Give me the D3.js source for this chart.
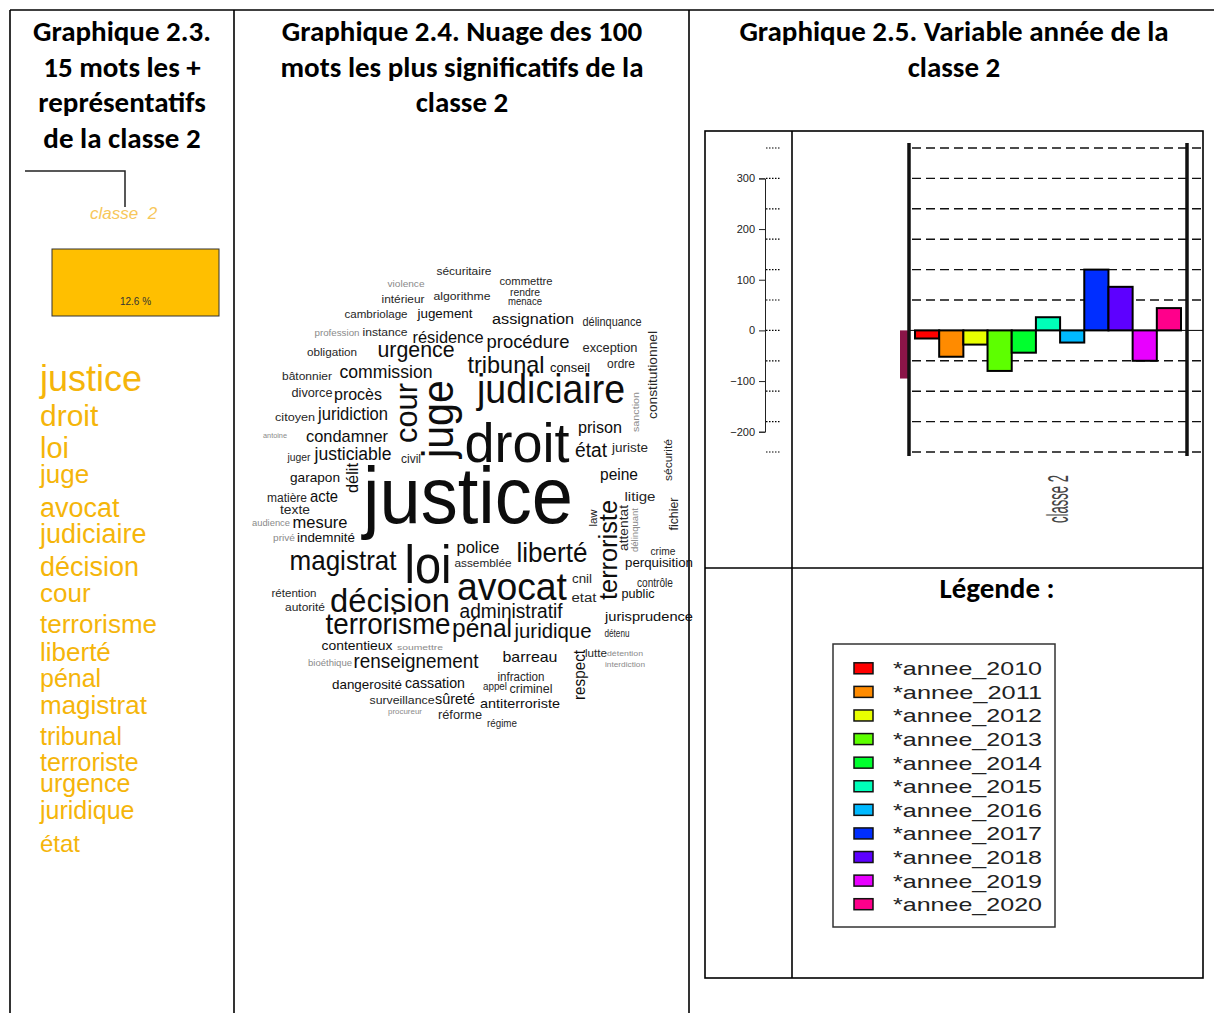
<!DOCTYPE html>
<html>
<head>
<meta charset="utf-8">
<title>Classe 2</title>
<script src="https://cdn.jsdelivr.net/npm/d3@7"></script>
<style>
  body { margin: 0; background: #fff; }
  svg { display: block; }
  .title { font-family: Carlito, Lato, "Open Sans", sans-serif; font-weight: 700; font-size: 29px; fill: #000; }
  .sans { font-family: "Liberation Sans", Arial, sans-serif; }
</style>
</head>
<body>
<script>
// ---- data ----
var panelTitles = [
  ["Graphique 2.3.", "15 mots les +", "représentatifs", "de la classe 2"],
  ["Graphique 2.4. Nuage des 100", "mots les plus significatifs de la", "classe 2"],
  ["Graphique 2.5. Variable année de la", "classe 2"]
];

// graphique 2.3 : 15 (+2) most representative words of class 2
var topWords = ["justice", "droit", "loi", "juge", "avocat", "judiciaire", "décision", "cour",
  "terrorisme", "liberté", "pénal", "magistrat", "tribunal", "terroriste", "urgence", "juridique", "état"];
var topWordSizes = [36, 30, 29, 26, 27, 27, 27, 26, 26, 26, 25, 26, 25, 25, 25, 25, 24];
var topWordLines = [391, 426, 458, 483, 517, 543, 576, 602, 633, 661, 687, 714, 745, 771, 792, 819, 852];
var classLabel = "classe  2";
var classShare = 12.6;

// graphique 2.4 : word cloud  [word, font size, x, y, length, rotation]
var cloudWords = [
  ["sécuritaire", 11, 464, 275, 55, 0], ["violence", 9.5, 406, 287, 37, 0],
  ["intérieur", 11, 403, 303, 43, 0], ["algorithme", 11, 462, 300, 57, 0],
  ["cambriolage", 11, 376, 318, 63, 0], ["jugement", 13, 445, 318, 55, 0],
  ["profession", 9, 337, 336, 45, 0], ["instance", 11.5, 385, 336, 45, 0],
  ["résidence", 17, 448, 343, 71, 0], ["obligation", 11.5, 332, 356, 50, 0],
  ["urgence", 22, 416, 357, 77, 0], ["bâtonnier", 11.5, 307, 380, 50, 0],
  ["commission", 18, 386, 378, 93, 0], ["divorce", 12, 312, 397, 41, 0],
  ["procès", 17, 358, 400, 48, 0], ["citoyen", 11.5, 295, 421, 40, 0],
  ["juridiction", 18, 353, 420, 70, 0], ["antoine", 8, 275, 438, 24, 0],
  ["condamner", 17, 347, 442, 82, 0], ["juger", 11.5, 299, 461, 23, 0],
  ["justiciable", 18, 353, 460, 77, 0], ["civil", 12, 411, 463, 20, 0],
  ["garapon", 13, 315, 482, 50, 0], ["délit", 16, 358, 478, 30, -90],
  ["cour", 32, 417, 413, 60, -90], ["juge", 44, 453, 419, 78, -90],
  ["commettre", 11, 526, 285, 53, 0], ["rendre", 10, 525, 296, 30, 0],
  ["menace", 10, 525, 305, 34, 0], ["assignation", 14, 533, 324, 82, 0],
  ["délinquance", 12, 612, 326, 59, 0], ["procédure", 19, 528, 348, 83, 0],
  ["exception", 12, 610, 352, 55, 0], ["tribunal", 24, 506, 373, 77, 0],
  ["conseil", 13, 570, 372, 40, 0], ["ordre", 12, 621, 368, 28, 0],
  ["constitutionnel", 12, 657, 375, 88, -90], ["sanction", 9.5, 639, 412, 40, -90],
  ["judiciaire", 40, 551, 403, 148, 0], ["droit", 56, 517, 462, 105, 0],
  ["prison", 16, 600, 433, 44, 0], ["état", 20, 591, 457, 32, 0],
  ["juriste", 12, 630, 452, 36, 0], ["sécurité", 11.5, 672, 460, 42, -90],
  ["peine", 16, 619, 480, 38, 0], ["justice", 80, 468, 523, 210, 0],
  ["matière", 12, 287, 502, 40, 0], ["acte", 17, 324, 502, 28, 0],
  ["texte", 12, 295, 514, 30, 0], ["audience", 9, 271, 526, 38, 0],
  ["mesure", 16, 320, 528, 55, 0], ["privé", 9, 284, 541, 22, 0],
  ["indemnité", 13, 326, 542, 58, 0], ["magistrat", 28, 343, 570, 107, 0],
  ["loi", 54, 428, 583, 47, 0], ["police", 16, 478, 553, 43, 0],
  ["assemblée", 11, 483, 567, 57, 0], ["liberté", 27, 552, 562, 71, 0],
  ["terroriste", 25, 617, 550, 100, -90], ["law", 10, 597, 518, 17, -90],
  ["attentat", 12, 628, 528, 46, -90], ["délinquant", 9, 638, 530, 44, -90],
  ["litige", 12, 640, 501, 31, 0], ["fichier", 12, 678, 514, 33, -90],
  ["crime", 11.5, 663, 555, 25, 0], ["perquisition", 13, 659, 567, 68, 0],
  ["avocat", 38, 512, 600, 110, 0], ["cnil", 12, 582, 583, 20, 0],
  ["contrôle", 12, 655, 587, 36, 0], ["etat", 12, 584, 602, 25, 0],
  ["public", 13, 638, 598, 33, 0], ["administratif", 20, 511, 618, 103, 0],
  ["jurisprudence", 13.5, 649, 621, 88, 0], ["pénal", 26, 482, 637, 60, 0],
  ["juridique", 20, 553, 638, 77, 0], ["détenu", 10, 617, 637, 25, 0],
  ["respect", 16, 585, 675, 50, -90], ["lutte", 11.5, 596, 657, 22, 0],
  ["détention", 8, 625, 656, 36, 0], ["interdiction", 8, 625, 667, 40, 0],
  ["barreau", 15, 530, 662, 55, 0], ["infraction", 12, 521, 681, 47, 0],
  ["appel", 10, 495, 690, 24, 0], ["criminel", 12, 531, 693, 43, 0],
  ["antiterroriste", 13, 520, 708, 80, 0], ["régime", 10.5, 502, 727, 30, 0],
  ["rétention", 11, 294, 597, 45, 0], ["autorité", 11, 305, 611, 40, 0],
  ["décision", 33, 390, 612, 120, 0], ["terrorisme", 29, 388, 634, 125, 0],
  ["contentieux", 13, 357, 650, 71, 0], ["soumettre", 8, 420, 650, 46, 0],
  ["bioéthique", 8.5, 330, 666, 44, 0], ["renseignement", 20, 416, 668, 125, 0],
  ["dangerosité", 13, 367, 689, 70, 0], ["cassation", 14, 435, 688, 60, 0],
  ["surveillance", 11.5, 402, 704, 65, 0], ["sûreté", 14, 455, 704, 40, 0],
  ["procureur", 8, 405, 714, 34, 0], ["réforme", 12, 460, 719, 44, 0]
];

// graphique 2.5 : variable année, classe 2
var years = ["2010", "2011", "2012", "2013", "2014", "2015", "2016", "2017", "2018", "2019", "2020"];
var yearValues = [-16, -52, -28, -80, -44, 26, -24, 120, 86, -60, 44];
var yearColors = ["#FF0000", "#FF8B00", "#E8FF00", "#5DFF00", "#00FF2E", "#00FFB9",
  "#00B9FF", "#002EFF", "#5D00FF", "#E800FF", "#FF008B"];
var prevClassTail = -95;   // last bar of the neighbouring class, cut at the border
var yTicks = [-200, -100, 0, 100, 200, 300];
var gridValues = [-240, -180, -120, -60, 60, 120, 180, 240, 300, 360];

// ---- page ----
var W = 1214, H = 1013;
var svg = d3.select("body").append("svg").attr("width", W).attr("height", H);
svg.append("rect").attr("width", W).attr("height", H).attr("fill", "#fff");

// table frame
var frame = svg.append("g").attr("stroke", "#000").attr("stroke-width", 1.6);
frame.append("line").attr("x1", 10).attr("x2", W).attr("y1", 10).attr("y2", 10);
[10, 234, 689].forEach(function(x) {
  frame.append("line").attr("x1", x).attr("x2", x).attr("y1", 10).attr("y2", H);
});

// titles
var titleX = [122, 462, 954];
panelTitles.forEach(function(lines, i) {
  svg.append("text").attr("class", "title").attr("text-anchor", "middle")
    .selectAll("tspan").data(lines).enter().append("tspan")
    .attr("x", titleX[i])
    .attr("y", function(d, j) { return 41 + j * 35.6; })
    .text(function(d) { return d; });
});

// ---- graphique 2.3 ----
var g1 = svg.append("g");
g1.append("path").attr("d", "M25,171H125V207").attr("fill", "none")
  .attr("stroke", "#222").attr("stroke-width", 1.5);
g1.append("text").attr("class", "sans").attr("x", 90).attr("y", 219)
  .attr("font-size", 17).attr("font-style", "italic").attr("fill", "#f7c75a")
  .style("white-space", "pre").text(classLabel);

var shareX = d3.scaleLinear().domain([0, classShare]).range([52, 219]);
g1.append("rect").attr("x", shareX(0)).attr("y", 249)
  .attr("width", shareX(classShare) - shareX(0)).attr("height", 67)
  .attr("fill", "#FFBF00").attr("stroke", "#333").attr("stroke-width", 1);
g1.append("text").attr("class", "sans").attr("x", shareX(classShare / 2)).attr("y", 305)
  .attr("text-anchor", "middle").attr("font-size", 10).attr("fill", "#333")
  .text(classShare + " %");

g1.selectAll("text.top").data(topWords).enter().append("text")
  .attr("class", "sans top").attr("x", 40)
  .attr("y", function(d, i) { return topWordLines[i]; })
  .attr("font-size", function(d, i) { return topWordSizes[i]; })
  .attr("fill", "#F5B50A")
  .text(function(d) { return d; });

// ---- graphique 2.4 : word cloud ----
var cx = d3.scaleLinear().domain([245, 690]).range([245, 690]);
var cy = d3.scaleLinear().domain([250, 740]).range([250, 740]);
var ink = d3.scaleThreshold().domain([9.6, 12.5]).range(["#8a8a8a", "#262626", "#0d0d0d"]);

svg.append("g").attr("class", "sans")
  .selectAll("text").data(cloudWords).enter().append("text")
  .attr("text-anchor", "middle")
  .attr("transform", function(d) {
    return "translate(" + cx(d[2]) + "," + cy(d[3]) + ")" + (d[5] ? " rotate(" + d[5] + ")" : "");
  })
  .attr("font-size", function(d) { return d[1]; })
  .attr("textLength", function(d) { return d[4]; })
  .attr("lengthAdjust", "spacingAndGlyphs")
  .attr("fill", function(d) { return ink(d[1]); })
  .text(function(d) { return d[0]; });

// ---- graphique 2.5 : bars ----
var box = svg.append("g").attr("stroke", "#000").attr("stroke-width", 1.6);
box.append("rect").attr("x", 705).attr("y", 131).attr("width", 498).attr("height", 847).attr("fill", "none");
box.append("line").attr("x1", 792).attr("x2", 792).attr("y1", 131).attr("y2", 978);
box.append("line").attr("x1", 705).attr("x2", 1203).attr("y1", 568).attr("y2", 568);

var y = d3.scaleLinear().domain([-240, 360]).range([452, 148]);
var yAx = d3.scaleLinear().domain([-200, 300]).range([y(-200), y(300)]);
var xClass = d3.scaleBand().domain(["classe 2"]).range([909, 1187]);
var c0 = xClass("classe 2"), cw = xClass.bandwidth();
var x = d3.scaleBand().domain(years).range([c0 + 6, c0 + cw - 6]);

var axis = svg.append("g").attr("class", "sans")
  .attr("transform", "translate(765,0)")
  .call(d3.axisLeft(yAx).tickValues(yTicks).tickSize(6).tickPadding(4));
axis.selectAll("text").attr("font-size", 11).attr("fill", "#222").style("font-family", "Liberation Sans, Arial, sans-serif");
axis.selectAll("path,line").attr("stroke", "#222");

// short dotted marks next to the axis
svg.append("g").selectAll("line").data(gridValues.concat([0])).enter().append("line")
  .attr("x1", 766).attr("x2", 781)
  .attr("y1", function(d) { return y(d); }).attr("y2", function(d) { return y(d); })
  .attr("stroke", "#000").attr("stroke-width", 1.2).attr("stroke-dasharray", "1.5,1.5");

// dashed grid
svg.append("g").selectAll("line").data(gridValues).enter().append("line")
  .attr("x1", c0 + 3).attr("x2", 1203)
  .attr("y1", function(d) { return y(d); }).attr("y2", function(d) { return y(d); })
  .attr("stroke", "#111").attr("stroke-width", 1.4).attr("stroke-dasharray", "9,5");

// tail of the neighbouring class
svg.append("rect").attr("x", c0 - 9).attr("width", 9)
  .attr("y", y(0)).attr("height", y(prevClassTail) - y(0))
  .attr("fill", "#8b1548");

svg.append("g").selectAll("rect").data(years).enter().append("rect")
  .attr("x", function(d) { return x(d); })
  .attr("width", x.bandwidth())
  .attr("y", function(d, i) { return y(Math.max(0, yearValues[i])); })
  .attr("height", function(d, i) { return Math.abs(y(yearValues[i]) - y(0)); })
  .attr("fill", function(d, i) { return yearColors[i]; })
  .attr("stroke", "#000").attr("stroke-width", 2);

svg.append("line").attr("x1", c0).attr("x2", 1203).attr("y1", y(0)).attr("y2", y(0))
  .attr("stroke", "#000").attr("stroke-width", 1);

svg.append("g").selectAll("line").data([c0, c0 + cw]).enter().append("line")
  .attr("x1", function(d) { return d; }).attr("x2", function(d) { return d; })
  .attr("y1", 143).attr("y2", 456)
  .attr("stroke", "#111").attr("stroke-width", 3.5);

svg.append("text").attr("class", "sans")
  .attr("transform", "translate(" + (c0 + cw / 2 + 20) + ",499) rotate(-90)")
  .attr("text-anchor", "middle").attr("font-size", 30)
  .attr("textLength", 48).attr("lengthAdjust", "spacingAndGlyphs")
  .attr("fill", "#444").text("classe 2");

// ---- legend ----
svg.append("text").attr("class", "title").attr("x", 997).attr("y", 598)
  .attr("text-anchor", "middle").text("Légende :");
svg.append("rect").attr("x", 833).attr("y", 644).attr("width", 222).attr("height", 283)
  .attr("fill", "none").attr("stroke", "#333").attr("stroke-width", 1.5);

var ly = d3.scaleBand().domain(years).range([656.5, 916]);
var leg = svg.append("g").selectAll("g").data(years).enter().append("g")
  .attr("transform", function(d) { return "translate(0," + (ly(d) + ly.bandwidth() / 2) + ")"; });
leg.append("rect").attr("x", 854).attr("y", -5.5).attr("width", 19).attr("height", 11)
  .attr("fill", function(d, i) { return yearColors[i]; })
  .attr("stroke", "#111").attr("stroke-width", 1.5);
leg.append("text").attr("class", "sans").attr("x", 893).attr("y", 7)
  .attr("font-size", 19).attr("fill", "#222")
  .attr("textLength", 149).attr("lengthAdjust", "spacingAndGlyphs")
  .text(function(d) { return "*annee_" + d; });
</script>
</body>
</html>
